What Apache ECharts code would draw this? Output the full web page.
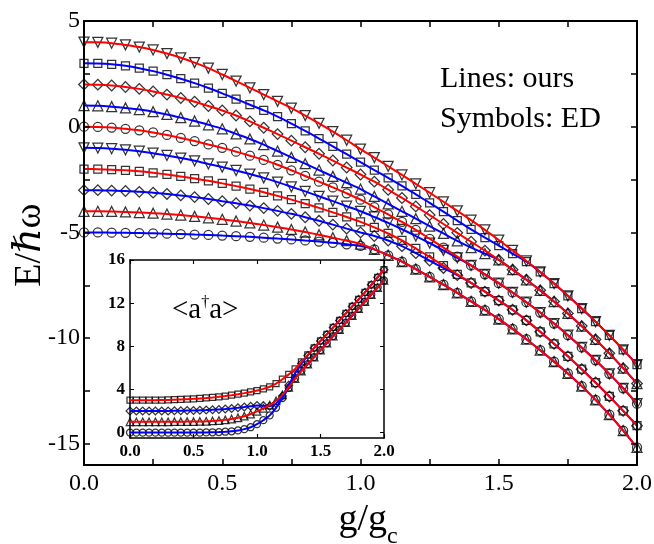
<!DOCTYPE html>
<html>
<head>
<meta charset="utf-8">
<script src="https://cdn.jsdelivr.net/npm/echarts@6.0.0/dist/echarts.min.js"></script>
<style>
  html, body { margin: 0; padding: 0; background: #fff; }
  #chart { width: 654px; height: 544px; }
</style>
</head>
<body>
<div id="chart"></div>
<script>
// coupling g/gc, same grid for main plot and inset
const gGrid = [0, 0.05, 0.1, 0.15, 0.2, 0.25, 0.3, 0.35, 0.4, 0.45, 0.5, 0.55, 0.6, 0.65, 0.7, 0.75, 0.8, 0.85, 0.9, 0.95,
  1, 1.05, 1.1, 1.15, 1.2, 1.25, 1.3, 1.35, 1.4, 1.45, 1.5, 1.55, 1.6, 1.65, 1.7, 1.75, 1.8, 1.85, 1.9, 1.95, 2];

// energy levels E/hw, named by value at g = 0
const e4 = [4.00, 3.99, 3.95, 3.87, 3.77, 3.63, 3.46, 3.26, 3.03, 2.77, 2.47, 2.16, 1.84, 1.52, 1.20, 0.88, 0.53, 0.16, -0.23, -0.64,
  -1.06, -1.46, -1.87, -2.28, -2.70, -3.12, -3.55, -3.98, -4.42, -4.88, -5.36, -5.85, -6.35, -6.87, -7.42, -8.00, -8.60, -9.22, -9.87, -10.55, -11.25];
const e3 = [3.00, 2.99, 2.95, 2.88, 2.77, 2.63, 2.46, 2.27, 2.06, 1.83, 1.58, 1.31, 1.04, 0.77, 0.48, 0.15, -0.20, -0.56, -0.93, -1.30,
  -1.68, -2.05, -2.42, -2.80, -3.20, -3.60, -4.02, -4.44, -4.86, -5.25, -5.62, -6.00, -6.38, -6.87, -7.42, -8.00, -8.60, -9.22, -9.87, -10.55, -11.25];
const e2 = [2.00, 1.99, 1.95, 1.88, 1.79, 1.67, 1.52, 1.36, 1.18, 0.98, 0.77, 0.53, 0.25, -0.05, -0.35, -0.66, -0.97, -1.28, -1.60, -1.93,
  -2.26, -2.60, -2.98, -3.37, -3.77, -4.18, -4.60, -5.02, -5.44, -5.86, -6.30, -6.76, -7.24, -7.74, -8.27, -8.83, -9.43, -10.06, -10.72, -11.42, -12.15];
const e1 = [1.00, 0.99, 0.95, 0.89, 0.81, 0.71, 0.58, 0.43, 0.27, 0.09, -0.10, -0.34, -0.58, -0.85, -1.15, -1.45, -1.75, -2.05, -2.35, -2.65,
  -2.95, -3.30, -3.65, -4.00, -4.35, -4.70, -5.05, -5.40, -5.72, -6.00, -6.30, -6.76, -7.24, -7.74, -8.27, -8.83, -9.43, -10.06, -10.72, -11.42, -12.15];
const e0 = [0.00, -0.01, -0.04, -0.10, -0.17, -0.27, -0.39, -0.53, -0.68, -0.84, -1.00, -1.18, -1.37, -1.57, -1.80, -2.06, -2.33, -2.60, -2.87, -3.15,
  -3.45, -3.80, -4.15, -4.50, -4.88, -5.30, -5.72, -6.14, -6.56, -6.98, -7.40, -7.84, -8.30, -8.79, -9.31, -9.86, -10.44, -11.05, -11.69, -12.37, -13.10];
const em1 = [-1.00, -1.01, -1.04, -1.09, -1.16, -1.25, -1.36, -1.48, -1.61, -1.76, -1.91, -2.07, -2.24, -2.42, -2.62, -2.84, -3.06, -3.29, -3.52, -3.76,
  -4.00, -4.27, -4.55, -4.85, -5.17, -5.50, -5.85, -6.20, -6.56, -6.98, -7.40, -7.84, -8.30, -8.79, -9.31, -9.86, -10.44, -11.05, -11.69, -12.37, -13.10];
const em2 = [-2.00, -2.01, -2.03, -2.06, -2.11, -2.18, -2.26, -2.35, -2.45, -2.56, -2.68, -2.81, -2.95, -3.10, -3.27, -3.45, -3.64, -3.84, -4.05, -4.27,
  -4.50, -4.76, -5.05, -5.38, -5.76, -6.16, -6.57, -6.98, -7.39, -7.80, -8.22, -8.66, -9.16, -9.70, -10.27, -10.86, -11.47, -12.10, -12.76, -13.44, -14.14];
const em3 = [-3.00, -3.00, -3.02, -3.04, -3.08, -3.12, -3.18, -3.25, -3.33, -3.42, -3.52, -3.62, -3.73, -3.85, -3.98, -4.12, -4.28, -4.45, -4.63, -4.82,
  -5.00, -5.17, -5.38, -5.65, -5.98, -6.33, -6.68, -7.02, -7.39, -7.80, -8.22, -8.66, -9.16, -9.70, -10.27, -10.86, -11.47, -12.10, -12.76, -13.44, -14.14];
const em4 = [-4.00, -4.00, -4.01, -4.03, -4.06, -4.09, -4.13, -4.18, -4.24, -4.31, -4.38, -4.46, -4.55, -4.65, -4.75, -4.86, -4.98, -5.11, -5.25, -5.39,
  -5.55, -5.80, -6.08, -6.38, -6.73, -7.10, -7.47, -7.86, -8.26, -8.67, -9.10, -9.56, -10.05, -10.57, -11.11, -11.67, -12.27, -12.92, -13.62, -14.37, -15.17];
const em5 = [-5.00, -5.00, -5.01, -5.02, -5.03, -5.04, -5.06, -5.08, -5.10, -5.12, -5.15, -5.18, -5.21, -5.25, -5.29, -5.33, -5.38, -5.43, -5.49, -5.56,
  -5.64, -5.80, -6.08, -6.38, -6.73, -7.10, -7.47, -7.86, -8.26, -8.67, -9.10, -9.56, -10.05, -10.57, -11.11, -11.67, -12.27, -12.92, -13.62, -14.37, -15.17];

// inset: photon number <a+a> for the four lowest levels
const n3 = [3.00, 3.00, 3.00, 3.00, 3.01, 3.02, 3.03, 3.05, 3.07, 3.10, 3.13, 3.17, 3.21, 3.26, 3.32, 3.39, 3.47, 3.56, 3.66, 3.77,
  3.90, 4.05, 4.25, 4.55, 4.95, 5.40, 5.90, 6.55, 7.20, 7.85, 8.50, 9.10, 9.75, 10.40, 11.05, 11.70, 12.35, 13.00, 13.70, 14.40, 15.10];
const n2 = [2.00, 2.00, 2.00, 2.00, 2.00, 2.01, 2.01, 2.02, 2.03, 2.04, 2.05, 2.07, 2.09, 2.12, 2.15, 2.19, 2.24, 2.30, 2.37, 2.45,
  2.52, 2.50, 2.45, 2.70, 3.40, 4.40, 5.50, 6.40, 7.15, 7.85, 8.50, 9.10, 9.75, 10.40, 11.05, 11.70, 12.35, 13.00, 13.70, 14.40, 15.10];
const n1 = [1.00, 1.00, 1.00, 1.00, 1.00, 1.00, 1.00, 1.01, 1.01, 1.02, 1.02, 1.03, 1.05, 1.08, 1.12, 1.18, 1.26, 1.37, 1.52, 1.72,
  1.97, 2.25, 2.55, 2.95, 3.50, 4.20, 5.00, 5.70, 6.35, 7.00, 7.65, 8.30, 8.95, 9.55, 10.20, 10.85, 11.50, 12.15, 12.80, 13.45, 14.10];
const n0 = [0.00, 0.00, 0.00, 0.00, 0.00, 0.00, 0.00, 0.00, 0.00, 0.00, 0.00, 0.00, 0.02, 0.03, 0.05, 0.08, 0.12, 0.20, 0.32, 0.50,
  0.78, 1.15, 1.60, 2.30, 3.20, 4.15, 5.05, 5.75, 6.35, 7.00, 7.65, 8.30, 8.95, 9.55, 10.20, 10.85, 11.50, 12.15, 12.80, 13.45, 14.10];

const xTicksMain = [0, 0.25, 0.5, 0.75, 1, 1.25, 1.5, 1.75, 2];
const xLabels = [0, 0.5, 1, 1.5, 2];
const yTicksMain = [-15, -12.5, -10, -7.5, -5, -2.5, 0, 2.5, 5];
const yLabelsMain = [-15, -10, -5, 0, 5];
const yTicksInset = [0, 4, 8, 12, 16];

const RED = '#ff0000';
const BLUE = '#0000ff';
const FONT = '"Liberation Serif", "Times New Roman", "DejaVu Serif", serif';

// level -> colour and ED symbol; blue listed first so red lines sit on top
const mainLevels = [
  { data: em5, color: BLUE, sym: 'circle', size: 9, rot: 0 },
  { data: em3, color: BLUE, sym: 'rect', size: 7.5, rot: 45 },
  { data: em1, color: BLUE, sym: 'triangle', size: 10, rot: 180 },
  { data: e1, color: BLUE, sym: 'triangle', size: 10, rot: 0 },
  { data: e3, color: BLUE, sym: 'rect', size: 8, rot: 0 },
  { data: em4, color: RED, sym: 'triangle', size: 10, rot: 0 },
  { data: em2, color: RED, sym: 'rect', size: 8, rot: 0 },
  { data: e0, color: RED, sym: 'circle', size: 9, rot: 0 },
  { data: e2, color: RED, sym: 'rect', size: 7.5, rot: 45 },
  { data: e4, color: RED, sym: 'triangle', size: 10, rot: 180 }
];
const insetLevels = [
  { data: n0, color: BLUE, sym: 'circle', size: 7, rot: 0 },
  { data: n2, color: BLUE, sym: 'rect', size: 5.5, rot: 45 },
  { data: n1, color: RED, sym: 'triangle', size: 7.5, rot: 0 },
  { data: n3, color: RED, sym: 'rect', size: 6, rot: 0 }
];

function pairs(arr) {
  return gGrid.map((g, i) => [g, arr[i]]);
}

function buildSeries(levels, axisIndex, zBase, lineWidth) {
  const out = [];
  levels.forEach(lv => {
    out.push({
      type: 'scatter', xAxisIndex: axisIndex, yAxisIndex: axisIndex, z: zBase,
      data: pairs(lv.data), symbol: lv.sym, symbolSize: lv.size, symbolRotate: lv.rot,
      itemStyle: { color: 'rgba(255,255,255,0)', borderColor: '#000', borderWidth: 1.25 },
      emphasis: { disabled: true }, silent: true
    });
  });
  levels.forEach(lv => {
    out.push({
      type: 'line', xAxisIndex: axisIndex, yAxisIndex: axisIndex, z: zBase + 1,
      data: pairs(lv.data), showSymbol: false, smooth: 0.3,
      lineStyle: { color: lv.color, width: lineWidth },
      emphasis: { disabled: true }, silent: true
    });
  });
  return out;
}

function frameAxis(grid, pos, min, max, ticks, labels, tickLen, lineW, labelStyle, z) {
  const ax = {
    type: 'value', gridIndex: grid, position: pos, min: min, max: max, z: z,
    axisLine: { show: true, onZero: false, lineStyle: { color: '#000', width: lineW } },
    axisTick: { show: true, inside: true, length: tickLen, customValues: ticks, lineStyle: { color: '#000', width: lineW * 0.75 } },
    axisLabel: { show: false },
    splitLine: { show: false }
  };
  if (labels) {
    ax.axisLabel = Object.assign({ show: true, customValues: labels, color: '#000', fontFamily: FONT }, labelStyle);
  }
  return ax;
}

const fmt1 = v => v.toFixed(1);

const option = {
  animation: false,
  backgroundColor: '#fff',
  grid: [
    { left: 84, top: 21, width: 553, height: 444, outerBoundsMode: 'none', show: false },
    { left: 130, top: 260, width: 254, height: 178, outerBoundsMode: 'none', show: true,
      backgroundColor: '#fff', borderWidth: 0, z: 10 }
  ],
  xAxis: [
    frameAxis(0, 'bottom', 0, 2, xTicksMain, xLabels, 6, 2, { fontSize: 24, margin: 7, formatter: fmt1 }, 5),
    frameAxis(0, 'top', 0, 2, xTicksMain, null, 6, 2, null, 5),
    frameAxis(1, 'bottom', 0, 2, xLabels, xLabels, 4, 1.5, { fontSize: 17, fontWeight: 'bold', margin: 5, formatter: fmt1 }, 12),
    frameAxis(1, 'top', 0, 2, xLabels, null, 4, 1.5, null, 12)
  ],
  yAxis: [
    frameAxis(0, 'left', -16, 5, yTicksMain, yLabelsMain, 6, 2, { fontSize: 24, margin: 4 }, 5),
    frameAxis(0, 'right', -16, 5, yTicksMain, null, 6, 2, null, 5),
    frameAxis(1, 'left', -0.5, 16, yTicksInset, yTicksInset, 4, 1.5, { fontSize: 17, fontWeight: 'bold', margin: 5 }, 12),
    frameAxis(1, 'right', -0.5, 16, yTicksInset, null, 4, 1.5, null, 12)
  ],
  graphic: [
    { type: 'text', x: 30, y: 245, rotation: Math.PI / 2, z: 20,
      style: { text: 'E/\u210Fω', fill: '#000', font: '38px ' + FONT, align: 'center', verticalAlign: 'middle' } },
    { type: 'text', x: 387, y: 520, z: 20,
      style: { text: 'g/g', fill: '#000', font: '38px ' + FONT, align: 'right', verticalAlign: 'middle' } },
    { type: 'text', x: 387, y: 537, z: 20,
      style: { text: 'c', fill: '#000', font: '24px ' + FONT, align: 'left', verticalAlign: 'middle' } },
    { type: 'text', x: 440, y: 79, z: 20,
      style: { text: 'Lines: ours', fill: '#000', font: '30px ' + FONT, align: 'left', verticalAlign: 'middle' } },
    { type: 'text', x: 440, y: 119, z: 20,
      style: { text: 'Symbols: ED', fill: '#000', font: '30px ' + FONT, align: 'left', verticalAlign: 'middle' } },
    { type: 'text', x: 172, y: 310, z: 20,
      style: { text: '<a{s|\u2020}a>', fill: '#000', font: '29px ' + FONT, align: 'left', verticalAlign: 'middle',
        rich: { s: { fontSize: 16, fontFamily: FONT, padding: [0, 0, 14, 0] } } } }
  ],
  series: [].concat(
    buildSeries(mainLevels, 0, 2, 2),
    buildSeries(insetLevels, 2, 11, 2)
  )
};

const chart = echarts.init(document.getElementById('chart'), null, { renderer: 'canvas' });
chart.setOption(option);
</script>
</body>
</html>
